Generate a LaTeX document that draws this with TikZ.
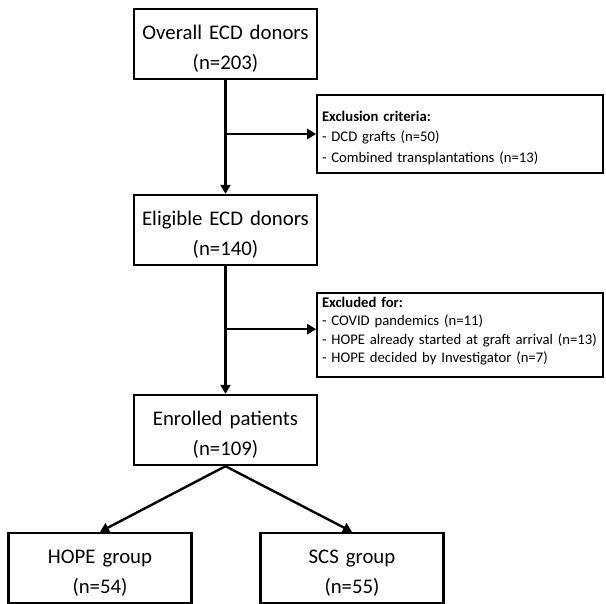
\documentclass[tikz,border=0pt]{standalone}
\usepackage{fontspec}
\setmainfont{Carlito}
\usetikzlibrary{arrows.meta,positioning,calc}
\tikzset{
  mainbox/.style={draw=black,line width=2.4pt,minimum width=183pt,minimum height=70pt,text width=180pt,inner xsep=1.5pt,inner ysep=0pt,align=center,fill=white,font=\fontsize{20.8}{30}\selectfont,execute at begin node=\rule{0pt}{24pt}},
  exbox/.style={draw=black,line width=1.6pt,minimum width=286pt,minimum height=78pt,text width=276pt,inner xsep=5pt,inner ysep=0pt,align=left,fill=white},
  flow/.style={-{Triangle[length=9pt,width=10pt]},line width=2.4pt}
}
\begin{document}
\begin{tikzpicture}[x=1pt,y=-1pt]
  \useasboundingbox (0,0) rectangle (606,604);
  % main column
  \node[mainbox] (overall) at (225.5,44) {Overall ECD donors\\(n=203)};
  \node[mainbox] (eligible) at (225.5,230) {Eligible ECD donors\\(n=140)};
  \node[mainbox] (enrolled) at (225.5,430) {Enrolled patients\\(n=109)};
  % groups
  \node[mainbox] (hope) at (100,568) {HOPE group\\(n=54)};
  \node[mainbox] (scs) at (352,568) {SCS group\\(n=55)};
  % exclusions
  \node[exbox,font=\fontsize{14.7}{20.5}\selectfont,execute at begin node=\rule{0pt}{18pt}] (excl1) at (460,134) {\textbf{Exclusion criteria:}\\- DCD grafts (n=50)\\- Combined transplantations (n=13)};
  \node[exbox,minimum height=84pt,font=\fontsize{14.7}{18.5}\selectfont,execute at end node={\rule[-10pt]{0pt}{0pt}}] (excl2) at (460,335) {\textbf{Excluded for:}\\- COVID pandemics (n=11)\\- HOPE already started at graft arrival (n=13)\\- HOPE decided by Investigator (n=7)};
  % arrows
  \coordinate (b1) at (overall.south |- excl1.west);
  \coordinate (b2) at ($(eligible.south)+(0,63)$);
  \draw[flow] (overall) -- (eligible);
  \draw[flow] (b1) -- (excl1.west);
  \draw[flow] (eligible) -- (enrolled);
  \draw[flow] (b2) -- (excl2.west |- b2);
  \draw[flow] (enrolled.south) -- (hope.north);
  \draw[flow] (enrolled.south) -- (scs.north);
\end{tikzpicture}
\end{document}
